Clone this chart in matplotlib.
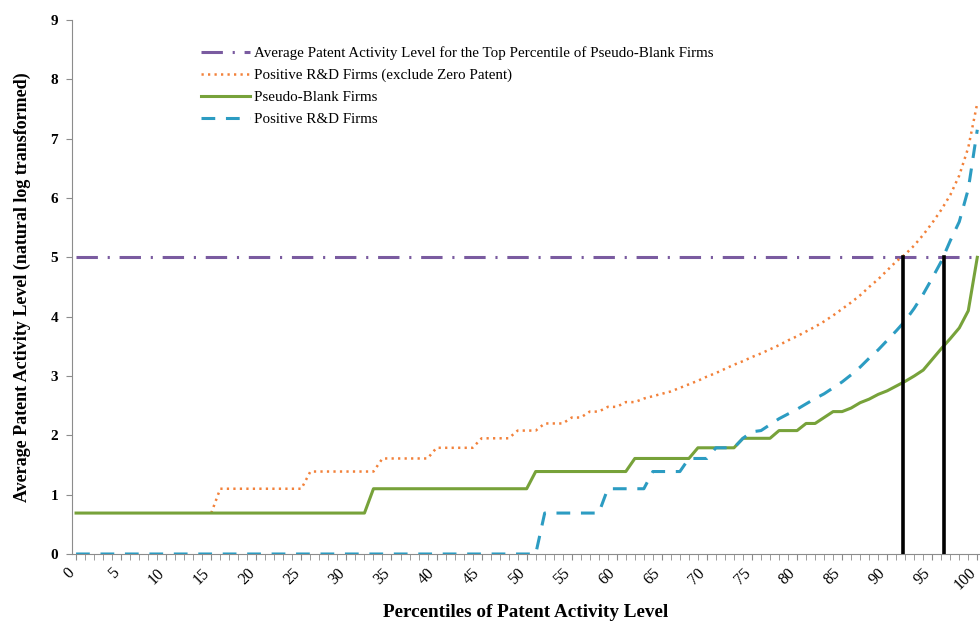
import numpy as np
import matplotlib
matplotlib.use("Agg")
import matplotlib.pyplot as plt
import matplotlib.transforms as mtransforms
from matplotlib.ticker import MultipleLocator, FixedLocator

percentiles = list(range(0, 101))

pseudo_blank = [
    0.69, 0.69, 0.69, 0.69, 0.69, 0.69, 0.69, 0.69, 0.69, 0.69,
    0.69, 0.69, 0.69, 0.69, 0.69, 0.69, 0.69, 0.69, 0.69, 0.69,
    0.69, 0.69, 0.69, 0.69, 0.69, 0.69, 0.69, 0.69, 0.69, 0.69,
    0.69, 0.69, 0.69, 1.10, 1.10, 1.10, 1.10, 1.10, 1.10, 1.10,
    1.10, 1.10, 1.10, 1.10, 1.10, 1.10, 1.10, 1.10, 1.10, 1.10,
    1.10, 1.39, 1.39, 1.39, 1.39, 1.39, 1.39, 1.39, 1.39, 1.39,
    1.39, 1.39, 1.61, 1.61, 1.61, 1.61, 1.61, 1.61, 1.61, 1.79,
    1.79, 1.79, 1.79, 1.79, 1.95, 1.95, 1.95, 1.95, 2.08, 2.08,
    2.08, 2.20, 2.20, 2.30, 2.40, 2.40, 2.46, 2.55, 2.61, 2.69,
    2.75, 2.83, 2.91, 3.00, 3.10, 3.28, 3.46, 3.63, 3.81, 4.10,
    5.00,
]

positive_rd = [
    0, 0, 0, 0, 0, 0, 0, 0, 0, 0,
    0, 0, 0, 0, 0, 0, 0, 0, 0, 0,
    0, 0, 0, 0, 0, 0, 0, 0, 0, 0,
    0, 0, 0, 0, 0, 0, 0, 0, 0, 0,
    0, 0, 0, 0, 0, 0, 0, 0, 0, 0,
    0, 0, 0.69, 0.69, 0.69, 0.69, 0.69, 0.69, 0.69, 1.10,
    1.10, 1.10, 1.10, 1.10, 1.39, 1.39, 1.39, 1.39, 1.61, 1.61,
    1.61, 1.79, 1.79, 1.79, 1.95, 2.06, 2.08, 2.18, 2.28, 2.36,
    2.44, 2.53, 2.62, 2.70, 2.80, 2.90, 3.02, 3.15, 3.30, 3.44,
    3.60, 3.76, 3.93, 4.14, 4.38, 4.65, 4.93, 5.28, 5.60, 6.15,
    7.15,
]

positive_rd_nonzero = [
    None, None, None, None, None, None, None, None, None, None,
    None, None, None, None, None, 0.69, 1.10, 1.10, 1.10, 1.10,
    1.10, 1.10, 1.10, 1.10, 1.10, 1.10, 1.39, 1.39, 1.39, 1.39,
    1.39, 1.39, 1.39, 1.39, 1.61, 1.61, 1.61, 1.61, 1.61, 1.61,
    1.79, 1.79, 1.79, 1.79, 1.79, 1.95, 1.95, 1.95, 1.95, 2.08,
    2.08, 2.08, 2.20, 2.20, 2.20, 2.30, 2.30, 2.40, 2.40, 2.48,
    2.48, 2.56, 2.56, 2.62, 2.66, 2.70, 2.74, 2.80, 2.86, 2.92,
    2.99, 3.05, 3.12, 3.19, 3.25, 3.32, 3.38, 3.45, 3.52, 3.60,
    3.67, 3.75, 3.83, 3.92, 4.02, 4.13, 4.24, 4.36, 4.50, 4.63,
    4.78, 4.93, 5.05, 5.20, 5.38, 5.58, 5.80, 6.05, 6.38, 6.85,
    7.60,
]

top_percentile_level = 5.0
crossing_percentiles = [91.8, 96.3]

x_tick_labels = [str(v) for v in range(0, 101, 5)]
y_ticks = list(range(0, 10))

PURPLE = "#7A5BA0"
ORANGE = "#F2813A"
GREEN = "#77A23A"
BLUE = "#2C9CC2"

SERIF = ["Liberation Serif", "DejaVu Serif"]
plt.rcParams["font.family"] = SERIF

fig = plt.figure(figsize=(9.8, 6.21), dpi=100)
ax = fig.add_axes([72 / 980, (621 - 554) / 621, (980 - 72) / 980, 534 / 621])

x = np.array(percentiles, dtype=float)
orange_y = np.array([np.nan if v is None else v for v in positive_rd_nonzero], dtype=float)

ax.plot(x, np.full_like(x, top_percentile_level), color=PURPLE, lw=2.2,
        dashes=(7, 3.2, 0.7, 3.2),
        label="Average Patent Activity Level for the Top Percentile of Pseudo-Blank Firms",
        zorder=3)
ax.plot(x, orange_y, color=ORANGE, lw=1.8, dashes=(0.9, 1.7),
        label="Positive R&D Firms (exclude Zero Patent)", zorder=4)
ax.plot(x, pseudo_blank, color=GREEN, lw=2.2,
        label="Pseudo-Blank Firms", zorder=4)
ax.plot(x, positive_rd, color=BLUE, lw=2.2, dashes=(4.5, 3.5),
        label="Positive R&D Firms", zorder=4)

for xc in crossing_percentiles:
    ax.plot([xc, xc], [0, top_percentile_level], color="black", lw=2.6, zorder=5)

ax.set_xlim(-0.45, 100.3)
ax.set_ylim(0, 9)

ax.spines["top"].set_visible(False)
ax.spines["right"].set_visible(False)
ax.spines["left"].set_color("#8C8C8C")
ax.spines["bottom"].set_color("#8C8C8C")

ax.set_yticks(y_ticks)
ax.set_yticklabels([str(v) for v in y_ticks], fontsize=11, fontweight="bold")
ax.tick_params(axis="y", direction="out", length=4, color="#8C8C8C", pad=6)

ax.xaxis.set_major_locator(FixedLocator(list(range(0, 101, 5))))
ax.xaxis.set_minor_locator(MultipleLocator(1))
ax.set_xticklabels(x_tick_labels, fontsize=11.5, rotation=45, ha="right",
                   va="center", rotation_mode="anchor")
ax.tick_params(axis="x", which="both", direction="out", length=4,
               color="#8C8C8C", pad=8)
shift = mtransforms.ScaledTranslation(-4 / 100, 0, fig.dpi_scale_trans)
for lab in ax.get_xticklabels():
    lab.set_transform(lab.get_transform() + shift)

ax.set_ylabel("Average Patent Activity Level (natural log transformed)",
              fontsize=13.0, fontweight="bold", labelpad=14)
ax.set_xlabel("Percentiles of Patent Activity Level", fontsize=13.8,
              fontweight="bold", labelpad=8)

leg = ax.legend(loc="upper left", bbox_to_anchor=(0.135, 0.962), frameon=False,
                fontsize=10.8, handlelength=3.3, handletextpad=0.25,
                labelspacing=0.57, borderaxespad=0)

fig.savefig("out.png", dpi=100)
